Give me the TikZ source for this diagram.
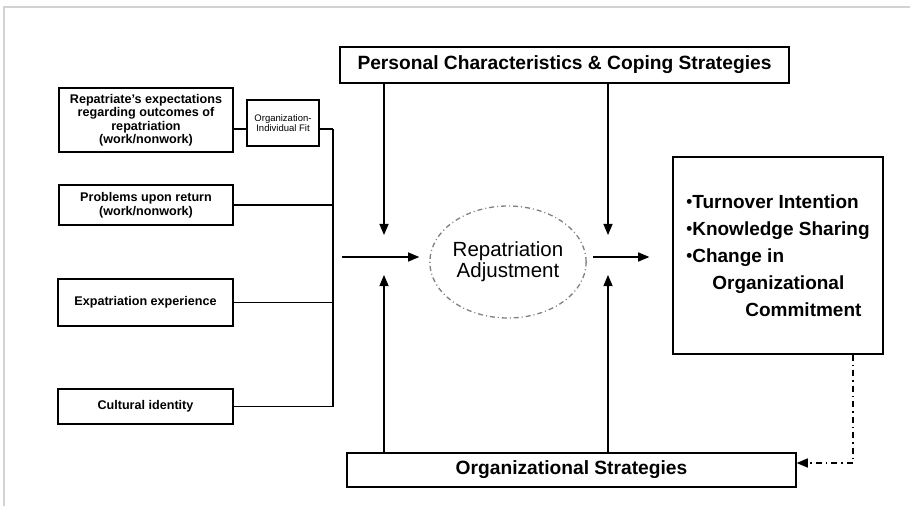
\documentclass[tikz,border=0pt]{standalone}
\usepackage{fontspec}
\setmainfont{Liberation Sans}
\usetikzlibrary{shapes,arrows}
\newcommand{\itemdot}{{\fontsize{17}{17}\selectfont\raisebox{0.5pt}{\textbullet}}}

\begin{document}
\begin{tikzpicture}[auto, thick, x=1pt, y=-1pt, >=triangle 45,
	box/.style={draw, rectangle, line width=1.4, align=center, inner sep=0},
	small/.style={font=\fontsize{12.6}{13.5}\selectfont\bfseries},
	big/.style={font=\fontsize{19.2}{20}\selectfont\bfseries},
	link/.style={line width=1.6}]

\useasboundingbox (0,0) rectangle (910,506);
\draw [gray!35, line width=1.5] (4,506) -- (4,7) -- (910,7);

				% left column
				\node [box, small, minimum width=174, minimum height=64] (e1) at (146,120) {Repatriate's expectations\\regarding outcomes of\\repatriation\\(work/nonwork)};
				\node [box, minimum width=72, minimum height=46, font=\fontsize{9.5}{10}\selectfont] (oifit) at (283,123) {Organization-\\Individual Fit};
				\node [box, small, minimum width=174, minimum height=40] (e2) at (146,205) {Problems upon return\\(work/nonwork)};
				\node [box, small, minimum width=175, minimum height=47] (e3) at (145.5,302.5) {Expatriation experience};
				\node [box, small, minimum width=175, minimum height=35] (e4) at (145.5,406.5) {Cultural identity};
				\coordinate (jt) at (333,129);
				\coordinate (jb) at (333,406.5);
				\draw [link] (e1.east |- jt) -- (oifit.west |- jt);
				\draw [link] (oifit.east |- jt) -- (jt);
				\draw [line width=2.6] (jt) -- (jb);
				\draw [link] (e2.east) -- (e2.east -| jt);
				\draw [link] (e3.east) -- (e3.east -| jt);
				\draw [link] (e4.east) -- (jb);

				% middle
				\node [box, big, minimum width=449, minimum height=36] (pers) at (564.5,65) {Personal Characteristics \& Coping Strategies};
				\node [box, big, minimum width=449, minimum height=34] (orgs) at (571.5,470) {Organizational Strategies};
				\node [ellipse, draw=gray, line width=1.3, dash pattern=on 5pt off 3pt on 1pt off 3pt, minimum width=130, minimum height=112, inner sep=0, align=center, font=\fontsize{20.5}{21}\selectfont] (adj) at (508,262) {Repatriation\\Adjustment};
				\node [box, minimum width=210, minimum height=197, align=left, font=\fontsize{19}{27}\selectfont\bfseries] (outc) at (778,255.5) {\itemdot Turnover Intention\\\itemdot Knowledge Sharing\\\itemdot Change in\\\hspace*{26pt}Organizational\\\hspace*{59pt}Commitment};

				\coordinate (ain) at (342,257);
				\coordinate (pl) at (384,235);
				\coordinate (pr) at (608,235);
				\coordinate (ql) at (384,275);
				\coordinate (qr) at (608,275);
				\draw [->, link, shorten >=10pt] (ain) -- (ain -| adj.west);
				\draw [->, link, shorten <=6pt, shorten >=23pt] (ain -| adj.east) -- (ain -| outc.west);
				\draw [->, link] (pers.south -| pl) -- (pl);
				\draw [->, link] (pers.south -| pr) -- (pr);
				\draw [->, link] (orgs.north -| ql) -- (ql);
				\draw [->, link] (orgs.north -| qr) -- (qr);

				% feedback
				\coordinate (fb) at (853,463);
				\draw [->, line width=1.6, dash pattern=on 6pt off 4pt on 1.5pt off 4pt] (outc.south -| fb) -- (fb) -- (orgs.east |- fb);

\end{tikzpicture}
\end{document}
